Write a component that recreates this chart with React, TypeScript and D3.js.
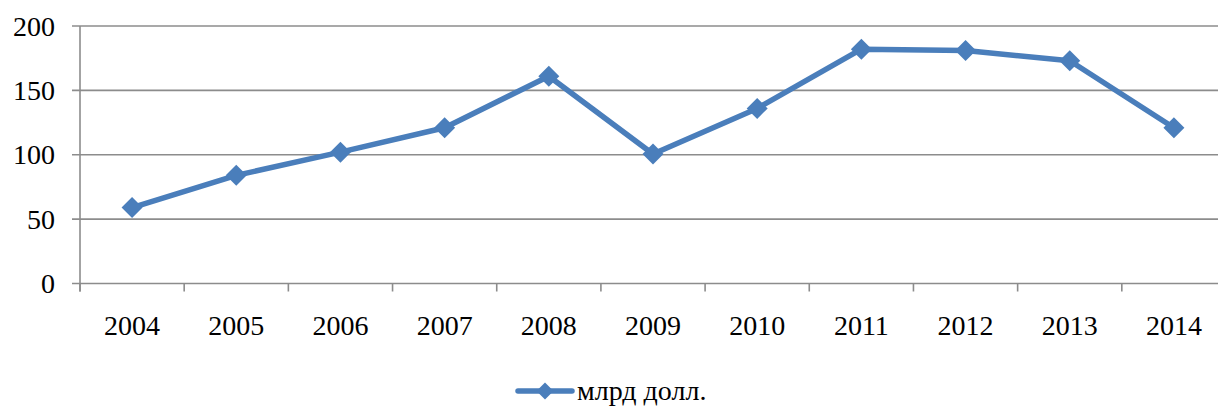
import React from "react";
import * as d3 from "d3";

const categories = ["2004", "2005", "2006", "2007", "2008", "2009", "2010", "2011", "2012", "2013", "2014"];
const values = [59, 84, 102, 121, 161, 100.6, 136, 182, 181, 173, 121];
const yTicks = [0, 50, 100, 150, 200];
const seriesName = "млрд долл.";

const W = 1218;
const H = 408;
const left = 80;
const right = 1226;
const top = 26;
const bottom = 283.5;
const color = "#4a7ebb";
const grid = "#8c8c8c";
const font = "'Liberation Serif', 'Times New Roman', serif";

export default function App() {
  const x = d3.scaleBand<string>().domain(categories).range([left, right]).padding(0);
  const y = d3.scaleLinear().domain([0, 200]).range([bottom, top]);
  const line = d3
    .line<number>()
    .x((_, i) => (x(categories[i]) as number) + x.bandwidth() / 2)
    .y((d) => y(d));
  const diamond = (cx: number, cy: number, r: number) =>
    `M${cx},${cy - r}L${cx + r},${cy}L${cx},${cy + r}L${cx - r},${cy}Z`;
  const bounds = categories.map((c) => x(c) as number).concat([right]);

  return (
    <svg width={W} height={H} style={{ position: "absolute", left: 0, top: 0 }}>
      <rect width={W} height={H} fill="#fff" />
      {yTicks.map((t) => (
        <g key={t}>
          <line x1={72} x2={right} y1={y(t)} y2={y(t)} stroke={grid} strokeWidth={1.6} />
          <text x={55} y={y(t)} dy="0.34em" textAnchor="end" fontFamily={font} fontSize={28} fill="#000">
            {t}
          </text>
        </g>
      ))}
      <line x1={left} x2={left} y1={top} y2={bottom + 8} stroke={grid} strokeWidth={1.6} />
      {bounds.map((b, i) => (
        <line key={i} x1={b} x2={b} y1={bottom} y2={bottom + 8} stroke={grid} strokeWidth={1.6} />
      ))}
      {categories.map((c) => (
        <text
          key={c}
          x={(x(c) as number) + x.bandwidth() / 2}
          y={335}
          textAnchor="middle"
          fontFamily={font}
          fontSize={28}
          fill="#000"
        >
          {c}
        </text>
      ))}
      <path d={line(values) || ""} fill="none" stroke={color} strokeWidth={5.5} strokeLinejoin="round" />
      {values.map((v, i) => (
        <path
          key={i}
          d={diamond((x(categories[i]) as number) + x.bandwidth() / 2, y(v), 10.5)}
          fill={color}
        />
      ))}
      <line x1={518} x2={572} y1={391} y2={391} stroke={color} strokeWidth={5.5} strokeLinecap="round" />
      <path d={diamond(545, 391, 8.5)} fill={color} />
      <text x={577} y={400} fontFamily={font} fontSize={28} fill="#000">
        {seriesName}
      </text>
    </svg>
  );
}
